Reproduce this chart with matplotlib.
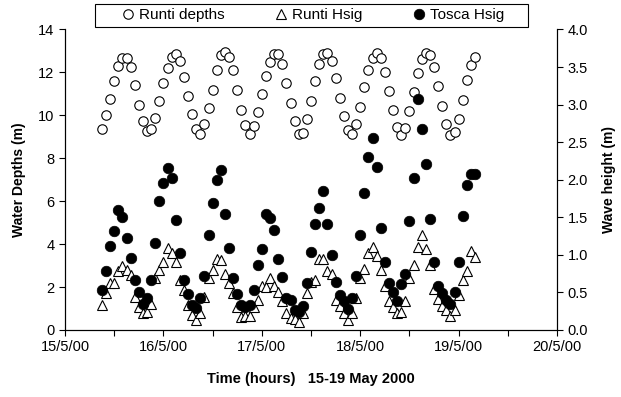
import matplotlib
matplotlib.use("Agg")
import matplotlib.pyplot as plt
import matplotlib.dates as mdates
from matplotlib.patches import Rectangle
import pandas as pd

plt.rcParams["font.family"] = ["Liberation Sans", "DejaVu Sans"]

# hourly readings, 15/5/2000 09:00 onwards
start = "2000-05-15 09:00"

runti_depths = [
    9.38, 10.0, 10.78, 11.58, 12.28, 12.68, 12.68, 12.25, 11.42, 10.5,
    9.73, 9.27, 9.38, 9.89, 10.65, 11.5, 12.22, 12.74, 12.84, 12.53,
    11.81, 10.88, 10.05, 9.38, 9.15, 9.61, 10.36, 11.2, 12.09, 12.79,
    12.94, 12.74, 12.12, 11.19, 10.23, 9.53, 9.15, 9.49, 10.15, 11.0,
    11.83, 12.48, 12.87, 12.84, 12.4, 11.52, 10.59, 9.73, 9.12, 9.18,
    9.81, 10.65, 11.6, 12.37, 12.84, 12.92, 12.53, 11.75, 10.82, 9.95,
    9.33, 9.12, 9.61, 10.39, 11.32, 12.12, 12.68, 12.9, 12.68, 12.01,
    11.13, 10.23, 9.46, 9.07, 9.42, 10.19, 11.09, 11.97, 12.64, 12.92,
    12.79, 12.25, 11.36, 10.43, 9.61, 9.1, 9.22, 9.84, 10.7, 11.63,
    12.36, 12.74,
]

runti_hsig = [
    0.33, 0.49, 0.63, 0.63, 0.78, 0.85, 0.80, 0.73, 0.44, 0.31,
    0.22, 0.24, 0.35, 0.69, 0.80, 0.90, 1.09, 1.03, 0.91, 0.66,
    0.53, 0.33, 0.20, 0.13, 0.22, 0.44, 0.69, 0.80, 0.95, 0.93,
    0.75, 0.62, 0.49, 0.31, 0.17, 0.18, 0.18, 0.31, 0.40, 0.59,
    0.57, 0.69, 0.59, 0.50, 0.38, 0.23, 0.16, 0.14, 0.11, 0.22,
    0.49, 0.64, 0.66, 0.94, 0.94, 0.79, 0.75, 0.40, 0.32, 0.22,
    0.13, 0.22, 0.42, 0.69, 0.81, 1.03, 1.10, 0.98, 0.80, 0.58,
    0.38, 0.31, 0.22, 0.24, 0.38, 0.69, 0.87, 1.10, 1.27, 1.08,
    0.86, 0.55, 0.41, 0.32, 0.26, 0.19, 0.27, 0.47, 0.67, 0.79,
    1.05, 0.97,
]

tosca_hsig = [
    0.53, 0.78, 1.12, 1.32, 1.60, 1.51, 1.23, 0.96, 0.66, 0.50,
    0.35, 0.42, 0.67, 1.16, 1.72, 1.96, 2.15, 2.02, 1.46, 1.03,
    0.67, 0.48, 0.33, 0.29, 0.43, 0.72, 1.27, 1.69, 1.99, 2.13,
    1.54, 1.09, 0.69, 0.48, 0.33, 0.30, 0.33, 0.53, 0.86, 1.08,
    1.54, 1.49, 1.33, 0.94, 0.70, 0.43, 0.40, 0.26, 0.24, 0.32,
    0.63, 1.04, 1.41, 1.63, 1.85, 1.41, 1.00, 0.64, 0.47, 0.38,
    0.28, 0.42, 0.72, 1.26, 1.82, 2.30, 2.56, 2.17, 1.36, 0.90,
    0.63, 0.50, 0.38, 0.61, 0.74, 1.45, 2.02, 3.08, 2.68, 2.21,
    1.48, 0.90, 0.58, 0.49, 0.40, 0.34, 0.50, 0.91, 1.52, 1.93,
    2.08, 2.07,
]

times = pd.date_range(start, periods=len(runti_depths), freq="h")

fig = plt.figure(figsize=(6.21, 3.97), dpi=100)
ax = fig.add_axes([0.1047, 0.1688, 0.7923, 0.7569])
ax2 = ax.twinx()

h1, = ax.plot(times, runti_depths, "o", ms=6.8, mfc="white", mec="black",
              mew=0.8, label="Runti depths")
h2, = ax2.plot(times, runti_hsig, "^", ms=7.2, mfc="white", mec="black",
               mew=0.8, label="Runti Hsig")
h3, = ax2.plot(times, tosca_hsig, "o", ms=7.6, mfc="black", mec="black",
               mew=0.5, label="Tosca Hsig")

ax.set_xlim(pd.Timestamp("2000-05-15"), pd.Timestamp("2000-05-20"))
ax.set_ylim(0, 14)
ax2.set_ylim(0, 4)
ax.set_yticks(range(0, 15, 2))
ax2.set_yticks([i * 0.5 for i in range(9)])
ax2.yaxis.set_major_formatter(plt.FormatStrFormatter("%.1f"))

ax.xaxis.set_major_locator(mdates.DayLocator())
ax.xaxis.set_minor_locator(mdates.HourLocator(byhour=[12]))
ax.xaxis.set_major_formatter(
    plt.FuncFormatter(lambda v, p: "{d.day}/{d.month}/{d:%y}".format(d=mdates.num2date(v))))

for a in (ax, ax2):
    a.tick_params(which="both", direction="out", length=4, width=0.8,
                  labelsize=10.5, colors="black")
    for s in a.spines.values():
        s.set_linewidth(0.8)
ax.spines["top"].set_visible(False)
ax2.spines["top"].set_visible(False)

ax.set_ylabel("Water Depths (m)", fontsize=10, fontweight="bold", labelpad=9)
ax2.set_ylabel("Wave height (m)", fontsize=10, fontweight="bold", labelpad=10)
ax.set_xlabel("Time (hours)   15-19 May 2000", fontsize=10.5, fontweight="bold",
              labelpad=13)

# legend box drawn separately so the inner padding can be wide
fig.patches.append(Rectangle((95 / 621, 1 - 27 / 397), 433 / 621, 23 / 397,
                             transform=fig.transFigure, fill=False,
                             edgecolor="black", linewidth=0.8))
fig.legend(handles=[h1, h2, h3], loc="center", ncol=3,
           bbox_to_anchor=(313 / 621, 1 - 15.5 / 397), fontsize=11,
           frameon=False, handlelength=0.8, handletextpad=0.3,
           columnspacing=3.3, borderaxespad=0, borderpad=0)

fig.savefig("out.png", dpi=100)
